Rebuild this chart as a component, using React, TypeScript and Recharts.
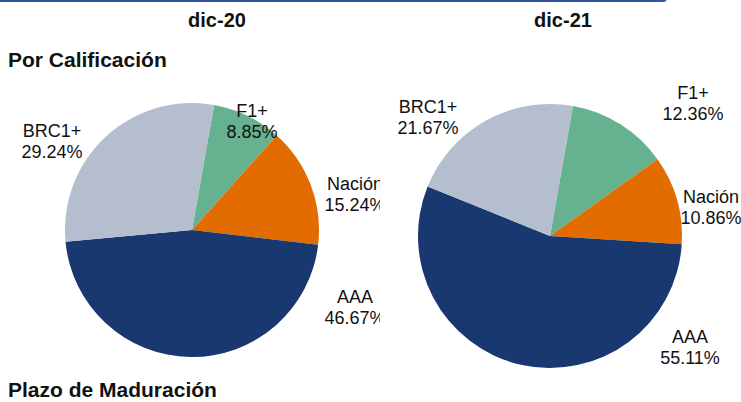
import { PieChart, Pie, Cell } from "recharts";

// categorias en el orden en que se dibujan (sentido horario desde arriba)
const categories = ["F1+", "Nación", "AAA", "BRC1+"];
const dic20Values = [8.85, 15.24, 46.67, 29.24];
const dic21Values = [12.36, 10.86, 55.11, 21.67];
const periods = ["dic-20", "dic-21"];
const sectionTitles = ["Por Calificación", "Plazo de Maduración"];

const COLORS: Record<string, string> = {
  "F1+": "#66B18F",
  "Nación": "#E36C00",
  AAA: "#1A3870",
  "BRC1+": "#B4BECF",
};

// posicion de las etiquetas (relativa al centro de cada torta), como en el original
const labelOffsets20: Record<string, [number, number]> = {
  "F1+": [60, -113],
  "Nación": [163, -40],
  AAA: [163, -73 + 146],
  "BRC1+": [-140, -93],
};
const labelOffsets21: Record<string, [number, number]> = {
  "F1+": [143, -137],
  "Nación": [161, -33],
  AAA: [140, 107],
  "BRC1+": [-122, -123],
};

const FONT = "'Liberation Sans', Arial, Helvetica, sans-serif";

const toData = (values: number[]) =>
  categories.map((name, i) => ({ name, value: values[i] }));

function makeLabel(offsets: Record<string, [number, number]>) {
  return (props: any) => {
    const { cx, cy, index, value } = props;
    const name = categories[index];
    const [dx, dy] = offsets[name];
    const x = cx + dx;
    const y = cy + dy;
    return (
      <text
        x={x}
        y={y}
        textAnchor="middle"
        fill="#111"
        fontSize={18}
        fontFamily={FONT}
      >
        <tspan x={x} y={y}>
          {name}
        </tspan>
        <tspan x={x} y={y + 20.5}>
          {Number(value).toFixed(2)}%
        </tspan>
      </text>
    );
  };
}

function RatingPie({
  values,
  width,
  cx,
  cy,
  r,
  offsets,
}: {
  values: number[];
  width: number;
  cx: number;
  cy: number;
  r: number;
  offsets: Record<string, [number, number]>;
}) {
  const data = toData(values);
  return (
    <PieChart width={width} height={402} margin={{ top: 0, right: 0, bottom: 0, left: 0 }}>
      <Pie
        data={data}
        dataKey="value"
        nameKey="name"
        cx={cx}
        cy={cy}
        outerRadius={r}
        startAngle={80}
        endAngle={-280}
        stroke="none"
        labelLine={false}
        label={makeLabel(offsets)}
        isAnimationActive={false}
      >
        {data.map((d) => (
          <Cell key={d.name} fill={COLORS[d.name]} />
        ))}
      </Pie>
    </PieChart>
  );
}

export default function App() {
  return (
    <div
      style={{
        position: "absolute",
        left: 0,
        top: 0,
        width: 741,
        height: 402,
        overflow: "hidden",
        background: "#fff",
        fontFamily: FONT,
      }}
    >
      <div style={{ position: "absolute", left: 0, top: 0 }}>
        <RatingPie values={dic20Values} width={380} cx={192} cy={230} r={127} offsets={labelOffsets20} />
      </div>
      <div style={{ position: "absolute", left: 380, top: 0 }}>
        <RatingPie values={dic21Values} width={361} cx={170} cy={236} r={132} offsets={labelOffsets21} />
      </div>
      <svg
        width={741}
        height={402}
        style={{ position: "absolute", left: 0, top: 0, pointerEvents: "none" }}
      >
        <rect x={-6} y={-6} width={673} height={8} rx={4} fill="#2F55A4" />
        <text x={217} y={27} textAnchor="middle" fontSize={20} fontWeight="bold" fontFamily={FONT} fill="#111">
          {periods[0]}
        </text>
        <text x={563} y={27} textAnchor="middle" fontSize={20} fontWeight="bold" fontFamily={FONT} fill="#111">
          {periods[1]}
        </text>
        <text x={8} y={66.5} fontSize={21} fontWeight="bold" fontFamily={FONT} fill="#111">
          {sectionTitles[0]}
        </text>
        <text x={8} y={396.5} fontSize={21} fontWeight="bold" fontFamily={FONT} fill="#111">
          {sectionTitles[1]}
        </text>
      </svg>
    </div>
  );
}
